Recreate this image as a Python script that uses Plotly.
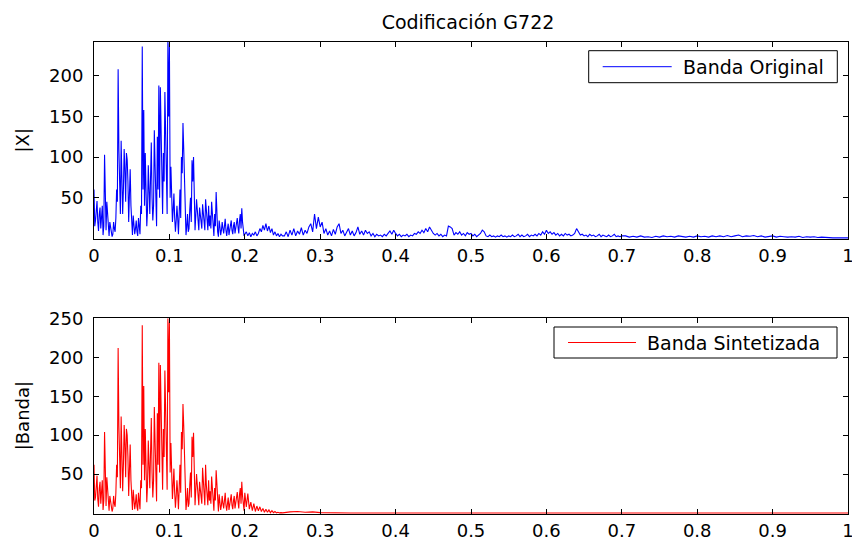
import numpy as np
import plotly.graph_objects as go

W, H = 852, 539

# ---- Spectrum data -------------------------------------------------------
# Band 0 .. 0.2 (normalised frequency) in steps of 0.001
orig_band = [
    60, 15, 22, 40, 46, 20, 9, 30, 38, 12, 25, 40, 4, 15, 103, 30, 10, 45, 30, 14,
    3, 20, 12, 8, 2, 5, 20, 12, 8, 25, 60, 45, 208, 110, 66, 30, 120, 80, 30, 60,
    110, 85, 45, 105, 97, 70, 20, 55, 85, 40, 12, 4, 28, 18, 5, 12, 22, 8, 3, 25,
    18, 5, 40, 30, 236, 60, 158, 40, 105, 70, 15, 35, 90, 60, 30, 75, 118, 50, 22, 40,
    133, 90, 45, 15, 125, 60, 188, 50, 186, 110, 55, 30, 105, 70, 180, 130, 60, 30, 242, 150,
    240, 50, 88, 45, 20, 35, 55, 25, 8, 22, 40, 25, 5, 30, 60, 25, 100, 80, 142, 110,
    76, 45, 4, 15, 30, 8, 12, 35, 50, 20, 96, 70, 100, 55, 10, 28, 48, 35, 15, 10,
    38, 30, 20, 12, 42, 30, 25, 10, 48, 35, 18, 10, 40, 15, 28, 12, 45, 30, 10, 3,
    30, 15, 57, 28, 8, 2, 22, 14, 4, 10, 20, 12, 6, 15, 24, 10, 3, 12, 18, 4,
    10, 16, 22, 10, 5, 15, 20, 6, 12, 18, 25, 14, 6, 22, 30, 12, 37, 20, 8, 3,
    5,
]
# 0.202 .. 0.25 in steps of 0.002
orig_mid = [
    8, 3, 7, 2, 6, 4, 8, 3, 6,
    12, 8, 16, 10, 18, 9, 15, 7, 12, 4,
    8, 3, 6, 2, 5, 3,
]
# 0.2525 .. 0.7 in steps of 0.0025
orig_noise = [
    3, 8, 2, 10, 4, 12, 3, 9, 5, 13, 4, 10, 6, 14, 18, 8, 30, 12, 26, 14,
    20, 6, 12, 4, 9, 3, 11, 5, 14, 18, 6, 10, 3, 8, 12, 4, 9, 3, 7, 14,
    5, 9, 4, 10, 6, 8, 3, 6, 2, 5, 3, 4, 2, 5, 3, 6, 9, 5, 10, 6,
    3, 5, 2, 4, 3, 5, 2, 4, 3, 6, 5, 8, 6, 10, 7, 12, 8, 14, 9, 6,
    4, 6, 3, 5, 2, 4, 3, 15, 14, 12, 4, 7, 5, 8, 4, 6, 3, 7, 5, 6,
    3, 5, 2, 4, 6, 10, 8, 3, 2, 4, 2, 3, 1.5, 3, 2, 4, 2, 3, 1.5, 3,
    2, 4, 2, 3, 5, 2, 4, 2, 3, 5, 2, 4, 3, 5, 3, 6, 4, 8, 5, 10,
    6, 8, 5, 7, 4, 6, 3, 5, 3, 6, 4, 5, 3, 4, 6, 12, 8, 4, 5, 3,
    4, 2, 5, 3, 4, 2, 3, 5, 2, 4, 3, 2, 4, 2, 3, 5, 2, 3, 2, 3,
]
# 0.705 .. 1.0 in steps of 0.005
orig_high = [
    3, 1.5, 2.5, 1.5, 3, 1.5, 2, 1, 2.5, 1.5,
    3, 2, 2.5, 1.5, 3, 2, 1.5, 2.5, 1.5, 3,
    2, 2.5, 1.5, 3, 2, 3, 2, 3.5, 2, 3,
    4, 2, 3, 2.5, 3.5, 2, 3, 1.5, 2.5, 3,
    1.5, 2.5, 2, 1.5, 2, 1.5, 2.5, 1, 2, 1.5,
    2, 1, 1.5, 1, 0.5, 0.5, 0.5, 0.5, 0.5, 0.5,
]

synth_band = [
    62, 16, 20, 42, 48, 18, 8, 32, 40, 12, 24, 42, 4, 16, 104, 32, 9, 46, 32, 15,
    3, 22, 14, 8, 2, 6, 22, 12, 8, 26, 62, 46, 212, 112, 68, 32, 124, 82, 28, 62,
    113, 88, 46, 108, 100, 72, 22, 56, 88, 42, 12, 4, 30, 18, 5, 13, 24, 8, 3, 26,
    18, 5, 42, 32, 241, 62, 163, 42, 108, 72, 14, 36, 93, 62, 32, 78, 122, 52, 20, 42,
    136, 92, 46, 15, 128, 62, 193, 52, 190, 112, 56, 30, 108, 72, 183, 133, 62, 30, 250, 155,
    245, 52, 90, 46, 18, 36, 57, 26, 7, 22, 42, 26, 5, 32, 62, 26, 104, 82, 140, 112,
    78, 46, 4, 16, 32, 8, 12, 36, 52, 20, 98, 72, 103, 56, 10, 30, 50, 36, 14, 10,
    40, 32, 22, 12, 58, 32, 26, 10, 62, 36, 18, 10, 42, 16, 28, 12, 47, 32, 10, 3,
    32, 16, 55, 30, 8, 2, 24, 15, 4, 10, 22, 12, 6, 16, 26, 10, 3, 12, 20, 4,
    10, 17, 24, 10, 5, 16, 22, 6, 12, 20, 27, 15, 6, 24, 32, 12, 40, 22, 10, 3,
    26,
]
synth_mid = [
    8, 25, 5, 14, 3, 12, 2, 9, 3,
    8, 2, 6, 1, 5, 1, 4, 0.5, 3, 0.5,
    2, 0.3, 1, 0.2, 0.5, 0.2,
]
# 0.26 .. 1.0 in steps of 0.01
synth_high = [
    1.5, 2, 1, 1.5, 0.5,
    0.2, 0.1, 0.2, 0.1, 0.1, 0.2, 0.1, 0.1, 0.2, 0.1,
    0.1, 0.2, 0.1, 0.1, 0.1, 0.2, 0.1, 0.1, 0.2, 0.1,
    0.1, 0.1, 0.2, 0.1, 0.1, 0.2, 0.1, 0.1, 0.1, 0.2,
    0.1, 0.1, 0.2, 0.1, 0.1, 0.1, 0.2, 0.1, 0.1, 0.2,
    0.1, 0.1, 0.1, 0.2, 0.1, 0.1, 0.2, 0.1, 0.1, 0.1,
    0.2, 0.1, 0.1, 0.2, 0.1, 0.1, 0.1, 0.2, 0.1, 0.1,
    0.2, 0.1, 0.1, 0.1, 0.2, 0.1, 0.1, 0.1, 0.1, 0.1,
]

x_ticks = [0, 0.1, 0.2, 0.3, 0.4, 0.5, 0.6, 0.7, 0.8, 0.9, 1]
x_tick_text = ["0", "0.1", "0.2", "0.3", "0.4", "0.5", "0.6", "0.7", "0.8", "0.9", "1"]
top_yticks = [50, 100, 150, 200]
bot_yticks = [50, 100, 150, 200, 250]

f_band = np.arange(len(orig_band)) * 0.001
f_mid = 0.202 + np.arange(len(orig_mid)) * 0.002
f_noise = 0.2525 + np.arange(len(orig_noise)) * 0.0025
f_orig_high = 0.705 + np.arange(len(orig_high)) * 0.005
f_synth_high = 0.26 + np.arange(len(synth_high)) * 0.01

x_orig = np.round(np.concatenate([f_band, f_mid, f_noise, f_orig_high]), 4)
y_orig = np.array(orig_band + orig_mid + orig_noise + orig_high, dtype=float)
x_synth = np.round(np.concatenate([f_band, f_mid, f_synth_high]), 4)
y_synth = np.array(synth_band + synth_mid + synth_high, dtype=float)

FONT = "DejaVu Sans"


def px(x):
    return x / W


def py(y):
    return 1 - y / H


fig = go.Figure()
fig.add_trace(go.Scatter(x=x_orig, y=y_orig, mode="lines", name="Banda Original",
                         line=dict(color="#0000FF", width=1.1), xaxis="x", yaxis="y",
                         showlegend=False))
fig.add_trace(go.Scatter(x=x_synth, y=y_synth, mode="lines", name="Banda Sintetizada",
                         line=dict(color="#FF0000", width=1.1), xaxis="x2", yaxis="y2",
                         showlegend=False))

axis_common = dict(
    showline=True, linecolor="black", linewidth=1, mirror="allticks",
    ticks="inside", ticklen=5, tickwidth=1, tickcolor="black",
    showgrid=False, zeroline=False, automargin=False, ticklabeloverflow="allow",
    tickfont=dict(family=FONT, size=18, color="black"),
)

xdom = [px(94), px(848)]
fig.update_layout(
    width=W, height=H,
    margin=dict(l=0, r=0, t=0, b=0, pad=0, autoexpand=False),
    paper_bgcolor="white", plot_bgcolor="white",
    showlegend=False,
    title=dict(text="Codificación G722", x=px(468), y=py(22), automargin=False,
               xanchor="center", yanchor="middle", xref="paper", yref="paper",
               font=dict(family=FONT, size=19, color="black")),
    xaxis=dict(domain=xdom, range=[0, 1], tickvals=x_ticks, ticktext=x_tick_text,
               anchor="y", ticklabelstandoff=0, **axis_common),
    yaxis=dict(domain=[py(239.3), py(41.7)], range=[-1.2, 242], tickvals=top_yticks,
               anchor="x", ticklabelstandoff=6, **axis_common),
    xaxis2=dict(domain=xdom, range=[0, 1], tickvals=x_ticks, ticktext=x_tick_text,
                anchor="y2", ticklabelstandoff=0, **axis_common),
    yaxis2=dict(domain=[py(514.3), py(318.3)], range=[-1.6, 250], tickvals=bot_yticks,
                anchor="x2", ticklabelstandoff=6, **axis_common),
)

# y-axis labels
for text, yc in [("|X|", 140.5), ("|Banda|", 416.3)]:
    fig.add_annotation(text=text, x=px(22), y=py(yc), xref="paper", yref="paper",
                       xanchor="center", yanchor="middle", textangle=-90, showarrow=False,
                       font=dict(family=FONT, size=18, color="black"))

# Boxed legends in the upper-right corner of each panel
legends = [
    dict(box=(588.7, 50.7, 837.3, 82.7), line=(602.7, 671.7), text_x=680.7,
         color="#0000FF", label="Banda Original"),
    dict(box=(554, 327, 837, 358), line=(568, 636), text_x=645,
         color="#FF0000", label="Banda Sintetizada"),
]
for lg in legends:
    x0, y0, x1, y1 = lg["box"]
    yc = (y0 + y1) / 2
    fig.add_shape(type="rect", xref="paper", yref="paper",
                  x0=px(x0), x1=px(x1), y0=py(y1), y1=py(y0),
                  line=dict(color="black", width=1), fillcolor="white", layer="above")
    fig.add_shape(type="line", xref="paper", yref="paper",
                  x0=px(lg["line"][0]), x1=px(lg["line"][1]), y0=py(yc), y1=py(yc),
                  line=dict(color=lg["color"], width=1), layer="above")
    fig.add_annotation(text=lg["label"], x=px(lg["text_x"]), y=py(yc),
                       xref="paper", yref="paper", xanchor="left", yanchor="middle",
                       showarrow=False, font=dict(family=FONT, size=19, color="black"))

fig.write_html("out.html")
